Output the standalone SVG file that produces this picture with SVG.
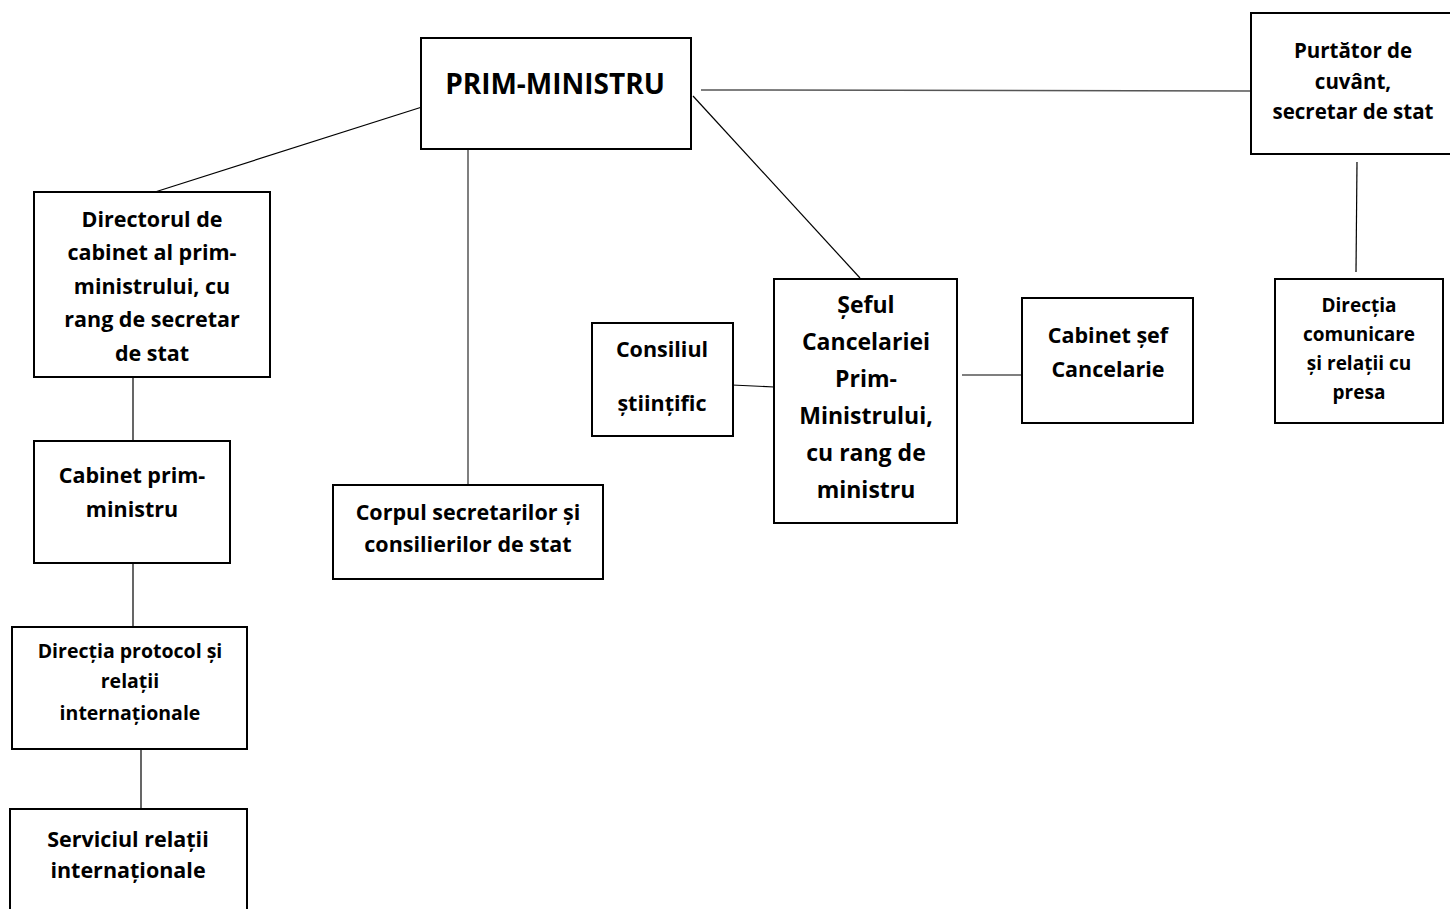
<svg xmlns="http://www.w3.org/2000/svg" width="1450" height="909" viewBox="0 0 1450 909">
<style>
.box{fill:#fff;stroke:#000;stroke-width:2}
.t{font-family:"Open Sans","Liberation Sans",sans-serif;font-weight:bold;fill:#000;text-anchor:middle}
.c{stroke:#000;stroke-width:1.2;fill:none}
.g{stroke:#555;stroke-width:1.5;fill:none}
</style>
<rect width="1450" height="909" fill="#fff"/>
<g id="connectors">
<line class="c" x1="422" y1="107" x2="155" y2="192"/>
<line class="g" x1="701" y1="90" x2="1251" y2="91"/>
<line class="c" x1="693" y1="96" x2="860" y2="278"/>
<line class="g" x1="468" y1="150" x2="468" y2="485"/>
<line class="c" x1="1357" y1="162" x2="1356" y2="272"/>
<line class="c" x1="133" y1="377" x2="133" y2="441"/>
<line class="c" x1="133" y1="563" x2="133" y2="627"/>
<line class="c" x1="141" y1="749" x2="141" y2="809"/>
<line class="c" x1="732" y1="385" x2="774" y2="387"/>
<line class="c" x1="962" y1="375" x2="1022" y2="375"/>
</g>
<g id="prim-ministru">
<rect class="box" x="421" y="38" width="270" height="111"/>
<text class="t" x="555" y="94" font-size="28">PRIM-MINISTRU</text>
</g>
<g id="purtator">
<rect class="box" x="1251" y="13" width="202" height="141"/>
<text class="t" font-size="20.5"><tspan x="1353" y="58">Purtător de</tspan><tspan x="1353" y="89">cuvânt,</tspan><tspan x="1353" y="119">secretar de stat</tspan></text>
</g>
<g id="directia-comunicare">
<rect class="box" x="1275" y="279" width="168" height="144"/>
<text class="t" font-size="19"><tspan x="1359" y="312">Direcția</tspan><tspan x="1359" y="341">comunicare</tspan><tspan x="1359" y="370">și relații cu</tspan><tspan x="1359" y="399">presa</tspan></text>
</g>
<g id="directorul">
<rect class="box" x="34" y="192" width="236" height="185"/>
<text class="t" font-size="21.5"><tspan x="152" y="227">Directorul de</tspan><tspan x="152" y="260">cabinet al prim-</tspan><tspan x="152" y="294">ministrului, cu</tspan><tspan x="152" y="327">rang de secretar</tspan><tspan x="152" y="361">de stat</tspan></text>
</g>
<g id="cabinet-prim-ministru">
<rect class="box" x="34" y="441" width="196" height="122"/>
<text class="t" font-size="21.5"><tspan x="132" y="483">Cabinet prim-</tspan><tspan x="132" y="517">ministru</tspan></text>
</g>
<g id="directia-protocol">
<rect class="box" x="12" y="627" width="235" height="122"/>
<text class="t" font-size="19.5"><tspan x="130" y="658">Direcția protocol și</tspan><tspan x="130" y="688">relații</tspan><tspan x="130" y="720">internaționale</tspan></text>
</g>
<g id="serviciul">
<rect class="box" x="10" y="809" width="237" height="110"/>
<text class="t" font-size="21.5"><tspan x="128" y="847">Serviciul relații</tspan><tspan x="128" y="878">internaționale</tspan></text>
</g>
<g id="corpul">
<rect class="box" x="333" y="485" width="270" height="94"/>
<text class="t" font-size="21.5"><tspan x="468" y="520">Corpul secretarilor și</tspan><tspan x="468" y="552">consilierilor de stat</tspan></text>
</g>
<g id="consiliul">
<rect class="box" x="592" y="323" width="141" height="113"/>
<text class="t" font-size="21.5"><tspan x="662" y="357">Consiliul</tspan><tspan x="662" y="411">științific</tspan></text>
</g>
<g id="seful">
<rect class="box" x="774" y="279" width="183" height="244"/>
<text class="t" font-size="23"><tspan x="866" y="313">Șeful</tspan><tspan x="866" y="350">Cancelariei</tspan><tspan x="866" y="387">Prim-</tspan><tspan x="866" y="424">Ministrului,</tspan><tspan x="866" y="461">cu rang de</tspan><tspan x="866" y="498">ministru</tspan></text>
</g>
<g id="cabinet-sef">
<rect class="box" x="1022" y="298" width="171" height="125"/>
<text class="t" font-size="21.5"><tspan x="1108" y="343">Cabinet șef</tspan><tspan x="1108" y="377">Cancelarie</tspan></text>
</g>
</svg>
